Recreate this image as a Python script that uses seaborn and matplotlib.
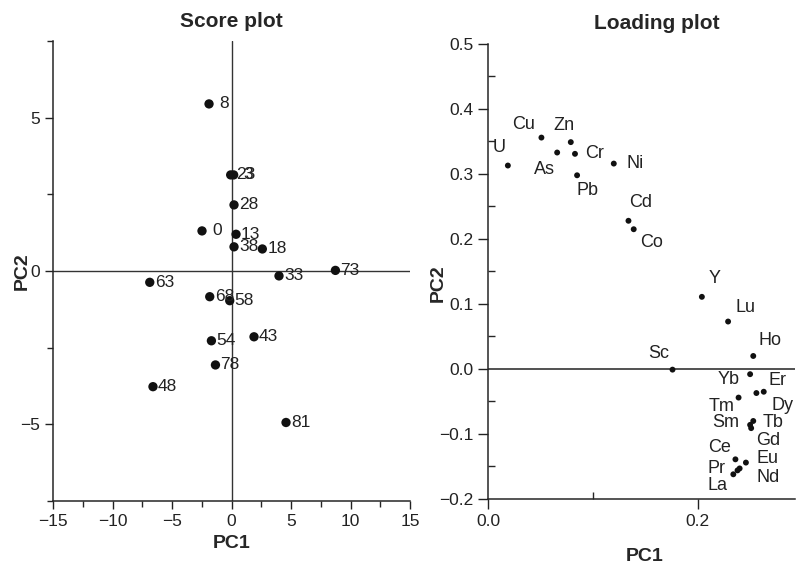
import matplotlib
matplotlib.use('Agg')
import matplotlib.pyplot as plt
import seaborn as sns
import pandas as pd
from matplotlib.ticker import MultipleLocator

# Score plot data (sample number, PC1, PC2)
sample_ids = ['0', '3', '8', '13', '18', '23', '28', '33', '38',
              '43', '48', '54', '58', '63', '68', '73', '78', '81']
score_pc1 = [-2.48, 0.18, -1.89, 0.38, 2.59, -0.07, 0.21, 3.99, 0.21,
             1.89, -6.60, -1.69, -0.15, -6.87, -1.83, 8.73, -1.35, 4.58]
score_pc2 = [1.31, 3.14, 5.46, 1.20, 0.72, 3.14, 2.16, -0.16, 0.79,
             -2.15, -3.78, -2.28, -0.97, -0.37, -0.84, 0.02, -3.07, -4.95]

# Loading plot data (element, PC1, PC2)
elements = ['U', 'Cu', 'Zn', 'As', 'Cr', 'Ni', 'Pb', 'Cd', 'Co', 'Y', 'Lu',
            'Ho', 'Sc', 'Yb', 'Er', 'Dy', 'Tm', 'Sm', 'Tb', 'Gd', 'Ce', 'Eu',
            'Pr', 'Nd', 'La']
loading_pc1 = [0.019, 0.051, 0.079, 0.066, 0.083, 0.120, 0.085, 0.134, 0.139,
               0.204, 0.229, 0.253, 0.176, 0.250, 0.263, 0.256, 0.239, 0.250,
               0.253, 0.251, 0.236, 0.246, 0.238, 0.240, 0.234]
loading_pc2 = [0.313, 0.356, 0.349, 0.333, 0.331, 0.316, 0.298, 0.228, 0.215,
               0.111, 0.073, 0.020, -0.001, -0.008, -0.035, -0.037, -0.044,
               -0.086, -0.080, -0.091, -0.139, -0.144, -0.156, -0.153, -0.162]

# label offsets in pixels (dx, dy) for the loading plot
label_offsets = {
    'U': (-9, 18), 'Cu': (-18, 13), 'Zn': (-7, 17), 'As': (-13, -17),
    'Cr': (20, 0), 'Ni': (21, 0), 'Pb': (10, -15), 'Cd': (12, 18),
    'Co': (18, -13), 'Y': (13, 18), 'Lu': (17, 14), 'Ho': (17, 15),
    'Sc': (-14, 16), 'Yb': (-21, -5), 'Er': (14, 11), 'Dy': (26, -12),
    'Tm': (-17, -9), 'Sm': (-24, 2), 'Tb': (20, -2), 'Gd': (17, -12),
    'Ce': (-16, 12), 'Eu': (22, 4), 'Pr': (-21, 2), 'Nd': (28, -9),
    'La': (-16, -11),
}

scores = pd.DataFrame({'id': sample_ids, 'PC1': score_pc1, 'PC2': score_pc2})
loadings = pd.DataFrame({'el': elements, 'PC1': loading_pc1, 'PC2': loading_pc2})

sns.set_style('ticks')
plt.rcParams['font.family'] = ['Liberation Sans', 'DejaVu Sans']
plt.rcParams['axes.linewidth'] = 1.1

fig = plt.figure(figsize=(7.96, 5.66), dpi=100)
ax1 = fig.add_axes([0.0666, 0.1157, 0.4485, 0.811])
ax2 = fig.add_axes([0.613, 0.1184, 0.386, 0.8039])

# Score plot
sns.scatterplot(data=scores, x='PC1', y='PC2', ax=ax1, color='#111111',
                s=45, edgecolor='none', linewidth=0)
ax1.axhline(0, color='#333333', lw=1.0, zorder=0)
ax1.axvline(0, color='#333333', lw=1.0, zorder=0)
for sid, x, y in zip(sample_ids, score_pc1, score_pc2):
    dx = 10 if len(sid) == 1 else 5
    ax1.annotate(sid, (x, y), xytext=(dx, 0), textcoords='offset pixels',
                 ha='left', va='center', fontsize=12.5, color='#222222')
ax1.set_xlim(-15, 15)
ax1.set_ylim(-7.5, 7.5)
ax1.xaxis.set_major_locator(MultipleLocator(5))
ax1.xaxis.set_minor_locator(MultipleLocator(2.5))
ax1.yaxis.set_major_locator(MultipleLocator(5))
ax1.yaxis.set_minor_locator(MultipleLocator(2.5))
ax1.tick_params(which='major', length=6, width=1.0, labelsize=12.5, colors='#222222')
ax1.tick_params(which='minor', length=4, width=1.0)
ax1.set_xlabel('PC1', fontsize=14, fontweight='bold', va='center')
ax1.set_ylabel('PC2', fontsize=14, fontweight='bold', va='center')
ax1.xaxis.set_label_coords(0.5, -0.094)
ax1.yaxis.set_label_coords(-0.087, 0.5)
ax1.set_title('Score plot', fontsize=15, fontweight='bold', pad=10.5)
sns.despine(ax=ax1)

# Loading plot
sns.scatterplot(data=loadings, x='PC1', y='PC2', ax=ax2, color='#111111',
                s=18, edgecolor='none', linewidth=0)
ax2.axhline(0, color='#222222', lw=1.1, zorder=0)
for el, x, y in zip(elements, loading_pc1, loading_pc2):
    ax2.annotate(el, (x, y), xytext=label_offsets[el], textcoords='offset pixels',
                 ha='center', va='center', fontsize=13, color='#222222')
ax2.set_xlim(0, 0.293)
ax2.set_ylim(-0.2, 0.5)
ax2.xaxis.set_major_locator(MultipleLocator(0.2))
ax2.xaxis.set_minor_locator(MultipleLocator(0.1))
ax2.yaxis.set_major_locator(MultipleLocator(0.1))
ax2.yaxis.set_minor_locator(MultipleLocator(0.05))
ax2.tick_params(which='major', length=7, width=1.0, labelsize=12.5,
                direction='out', colors='#222222')
ax2.tick_params(which='minor', length=5, width=1.0, direction='in')
ax2.set_xlabel('PC1', fontsize=14, fontweight='bold', va='center')
ax2.set_ylabel('PC2', fontsize=14, fontweight='bold', va='center')
ax2.xaxis.set_label_coords(0.51, -0.127)
ax2.yaxis.set_label_coords(-0.162, 0.475)
ax2.set_title('Loading plot', fontsize=15, fontweight='bold', pad=10.5, x=0.548)
sns.despine(ax=ax2)

fig.savefig('out.png', dpi=100)
